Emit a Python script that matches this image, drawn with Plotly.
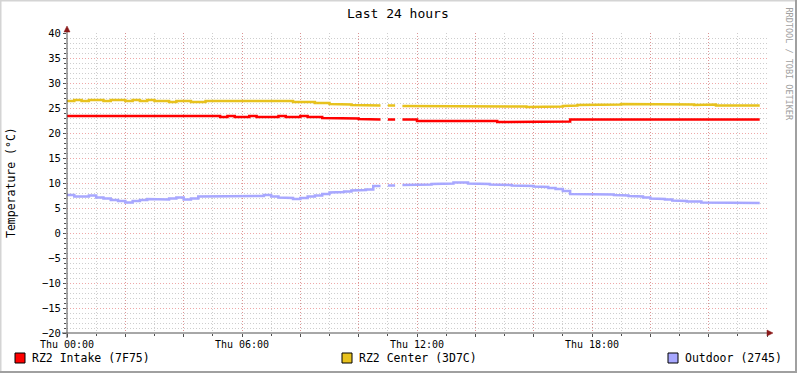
import plotly.graph_objects as go

# ---- data (0.25 h intervals, starting Thu 00:00) ----
hours = [i * 0.25 for i in range(95)]

intake = [23.4]*21 + [23.2, 23.4, 23.2, 23.2, 23.4, 23.2, 23.2, 23.2, 23.4, 23.2, 23.2, 23.4,
          23.2, 23.2, 23.0, 23.0, 22.9, 22.9, 22.9, 22.8, 22.7, 22.7, None, 22.7, None,
          22.7, 22.7] + [22.4]*11 + [22.2]*8 + [22.3, 22.3] + \
         [22.7, 22.7, 22.6, 22.7, 22.7, 22.7, 22.6, 22.7, 22.7, 22.7, 22.7, 22.6, 22.7,
          22.7, 22.7, 22.7, 22.6, 22.7, 22.7, 22.7, 22.6, 22.7, 22.7, 22.7, 22.7, 22.7]

center = [26.4, 26.6, 26.4, 26.6, 26.6, 26.4, 26.6, 26.6, 26.4, 26.6, 26.4, 26.6, 26.4, 26.4,
          26.2, 26.4, 26.4, 26.2, 26.2, 26.4, 26.4, 26.4, 26.4, 26.4, 26.4, 26.4, 26.4, 26.4,
          26.4, 26.4, 26.4, 26.2, 26.2, 26.2, 26.0, 26.0, 25.8, 25.7, 25.7, 25.6, 25.5, 25.5,
          25.5, None, 25.5, None] + \
         [25.4, 25.3, 25.4, 25.4, 25.3, 25.4, 25.4, 25.4, 25.3, 25.4, 25.4, 25.4, 25.3, 25.4,
          25.4, 25.3, 25.3, 25.2, 25.3, 25.3, 25.3, 25.3, 25.4, 25.5, 25.6, 25.6, 25.6, 25.7,
          25.7, 25.7, 25.8, 25.7, 25.7, 25.7, 25.8, 25.7, 25.7, 25.7, 25.7, 25.7, 25.6, 25.7,
          25.7, 25.5, 25.5, 25.5, 25.6, 25.5, 25.5]

outdoor = [7.6, 7.3, 7.3, 7.5, 7.1, 6.9, 6.6, 6.4, 6.1, 6.4, 6.6, 6.8, 6.7, 6.7, 6.9, 7.1,
           6.7, 6.9, 7.3, 7.3, 7.4, 7.4, 7.3, 7.3, 7.3, 7.4, 7.4, 7.6, 7.3, 7.1, 7.0, 6.8,
           7.0, 7.3, 7.5, 7.8, 8.1, 8.2, 8.3, 8.5, 8.6, 8.7, 9.4, None, 9.5, None,
           9.6, 9.6, 9.7, 9.7, 9.8, 9.8, 9.9, 10.1, 10.1, 9.9, 9.8, 9.8, 9.7, 9.7, 9.6, 9.5,
           9.5, 9.4, 9.3, 9.2, 9.0, 8.8, 8.4, 7.8, 7.8, 7.8, 7.8, 7.7, 7.7, 7.6, 7.5, 7.4,
           7.3, 7.1, 6.9, 6.8, 6.7, 6.5, 6.4, 6.3, 6.3, 6.1, 6.1, 6.1, 6.0, 6.0, 6.1, 6.0, 6.0]

series_names = ["RZ2 Intake (7F75)", "RZ2 Center (3D7C)", "Outdoor (2745)"]
series_colors = ["#FF0000", "#E8C21E", "#A8A8FF"]

x_tick_vals = [0, 2, 4, 6, 8, 10, 12, 14, 16, 18, 20, 22, 24]
x_tick_text = ["Thu 00:00", "", "", "Thu 06:00", "", "", "Thu 12:00", "", "",
               "Thu 18:00", "", "", ""]

STEP = 0.25
MONO = "DejaVu Sans Mono"


def step_xy(ts, vals, dt=STEP):
    xs, ys = [], []
    for t, v in zip(ts, vals):
        if v is None:
            if xs and xs[-1] is not None:
                xs.append(None)
                ys.append(None)
            continue
        xs += [t, t + dt]
        ys += [v, v]
    return xs, ys


fig = go.Figure()
for name, vals, col in zip(series_names, [intake, center, outdoor], series_colors):
    xs, ys = step_xy(hours, vals)
    fig.add_trace(go.Scatter(x=xs, y=ys, mode="lines", name=name, showlegend=False,
                             line=dict(color=col, width=2.5), connectgaps=False))

W, H = 797, 373
L, R, T, B = 67, 30, 33, 40
PW, PH = W - L - R, H - T - B


def px(xp):
    return (xp - L) / PW


def py(yp):
    return (H - B - yp) / PH


shapes = []
# axes lines
shapes.append(dict(type="line", xref="paper", yref="paper", x0=px(67), x1=px(67),
                   y0=py(338), y1=py(30), line=dict(color="#505050", width=1)))
shapes.append(dict(type="line", xref="paper", yref="paper", x0=px(62), x1=px(768),
                   y0=py(333), y1=py(333), line=dict(color="#505050", width=1)))
# arrows
shapes.append(dict(type="path", xref="paper", yref="paper",
                   path=f"M {px(64)} {py(32)} L {px(70)} {py(32)} L {px(67)} {py(26)} Z",
                   fillcolor="#8B1A1A", line=dict(color="#8B1A1A", width=0.5)))
shapes.append(dict(type="path", xref="paper", yref="paper",
                   path=f"M {px(767)} {py(330)} L {px(767)} {py(336)} L {px(773)} {py(333)} Z",
                   fillcolor="#8B1A1A", line=dict(color="#8B1A1A", width=0.5)))
# frame
shapes.append(dict(type="line", xref="paper", yref="paper", x0=px(0), x1=px(797),
                   y0=py(0.5), y1=py(0.5), line=dict(color="#D4D4D4", width=2)))
shapes.append(dict(type="line", xref="paper", yref="paper", x0=px(0.5), x1=px(0.5),
                   y0=py(0), y1=py(373), line=dict(color="#D4D4D4", width=2)))
shapes.append(dict(type="line", xref="paper", yref="paper", x0=px(796), x1=px(796),
                   y0=py(0), y1=py(373), line=dict(color="#A0A0A0", width=2)))
shapes.append(dict(type="line", xref="paper", yref="paper", x0=px(0), x1=px(797),
                   y0=py(372), y1=py(372), line=dict(color="#A0A0A0", width=2)))

annotations = []
legend_x = [15, 342, 668]
for lx, name, col in zip(legend_x, series_names, series_colors):
    shapes.append(dict(type="rect", xref="paper", yref="paper",
                       x0=px(lx), x1=px(lx + 10), y0=py(353), y1=py(363),
                       fillcolor=col, line=dict(color="#000000", width=1)))
    annotations.append(dict(text=name, xref="paper", yref="paper", x=px(lx + 15),
                            y=py(358), xanchor="left", yanchor="middle", showarrow=False,
                            font=dict(family=MONO, size=11.5, color="#000000")))

annotations.append(dict(text="Last 24 hours", xref="paper", yref="paper", x=px(398),
                        y=py(13), xanchor="center", yanchor="middle", showarrow=False,
                        font=dict(family=MONO, size=13, color="#000000")))
annotations.append(dict(text="Temperature (°C)", xref="paper", yref="paper", x=px(11),
                        y=py(183), xanchor="center", yanchor="middle", showarrow=False,
                        textangle=-90, font=dict(family=MONO, size=11.5, color="#000000")))
annotations.append(dict(text="RRDTOOL / TOBI OETIKER", xref="paper", yref="paper",
                        x=px(789), y=py(5), xanchor="center", yanchor="top",
                        showarrow=False, textangle=90,
                        font=dict(family=MONO, size=8.5, color="#A0A0A0")))

MAJOR = "rgba(228,110,110,0.6)"
MINOR = "rgba(185,185,185,0.7)"
DOTS = "1px,2px"

fig.update_layout(
    width=W, height=H, autosize=False,
    margin=dict(l=L, r=R, t=T, b=B, pad=0),
    paper_bgcolor="#FFFFFF", plot_bgcolor="#FFFFFF",
    shapes=shapes, annotations=annotations, showlegend=False,
    xaxis=dict(range=[0, 24], tickmode="array", tickvals=x_tick_vals, ticktext=x_tick_text,
               showgrid=True, gridcolor=MAJOR, griddash=DOTS, gridwidth=1,
               ticks="outside", ticklen=3, tickcolor="#505050", zeroline=False,
               showline=False, ticklabelstandoff=-1,
               tickfont=dict(family=MONO, size=10, color="#000000"),
               minor=dict(dtick=1, tick0=0, showgrid=True, gridcolor=MINOR,
                          griddash=DOTS, ticks="outside", ticklen=2, tickcolor="#505050")),
    yaxis=dict(range=[-20, 40], dtick=5, tick0=0,
               showgrid=True, gridcolor=MAJOR, griddash=DOTS, gridwidth=1,
               ticks="outside", ticklen=3, tickcolor="#505050", zeroline=False,
               showline=False,
               tickfont=dict(family=MONO, size=10.5, color="#000000"),
               minor=dict(dtick=1, tick0=0, showgrid=True, gridcolor=MINOR,
                          griddash=DOTS, ticks="outside", ticklen=2, tickcolor="#505050")),
)

fig.write_html("out.html", config={"displayModeBar": False},
               post_script="document.body.style.margin='0px';document.body.style.padding='0px';")
